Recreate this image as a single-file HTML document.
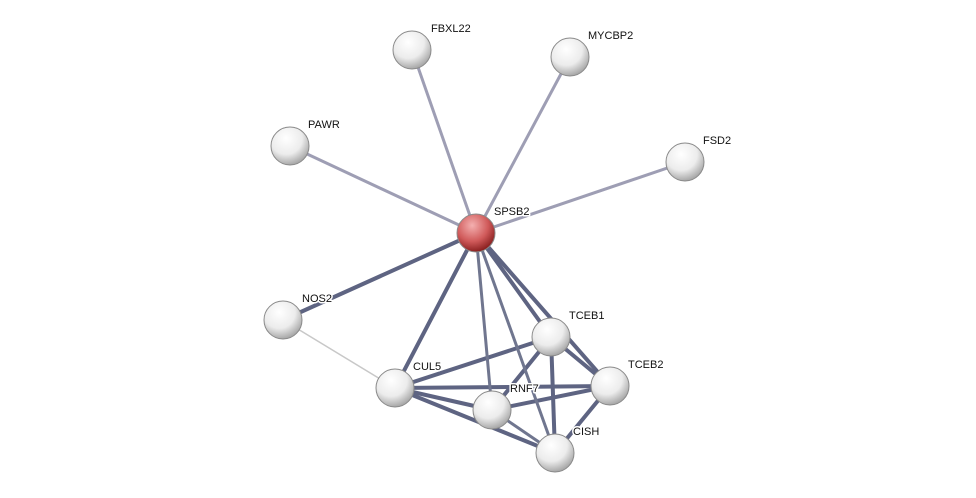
<!DOCTYPE html>
<html><head><meta charset="utf-8"><style>
html,body{margin:0;padding:0;background:#fff;}
svg{display:block;}
text{font-family:"Liberation Sans",sans-serif;font-size:11px;fill:#111;stroke:#fff;stroke-width:3px;paint-order:stroke;stroke-linejoin:round;}
</style></head><body>
<svg width="976" height="498" viewBox="0 0 976 498" xmlns="http://www.w3.org/2000/svg">
<defs>
<radialGradient id="g" cx="40%" cy="30%" r="70%">
<stop offset="0" stop-color="#ffffff"/><stop offset="0.6" stop-color="#ececec"/><stop offset="1" stop-color="#a8a8a8"/>
</radialGradient>
<radialGradient id="r" cx="40%" cy="30%" r="70%">
<stop offset="0" stop-color="#f4b0b0"/><stop offset="0.6" stop-color="#d05a5a"/><stop offset="1" stop-color="#8a2020"/>
</radialGradient>
</defs>
<g stroke-linecap="round">
<g stroke="#9e9eb4" stroke-width="3">
<line x1="476" y1="233" x2="412" y2="50"/>
<line x1="476" y1="233" x2="570" y2="57"/>
<line x1="476" y1="233" x2="290" y2="146"/>
<line x1="476" y1="233" x2="685" y2="162"/>
</g>
<line x1="283" y1="320" x2="395" y2="388" stroke="#c8c8c8" stroke-width="1.5"/>
<g stroke="#5e6482" stroke-width="4">
<line x1="476" y1="233" x2="283" y2="320"/>
<line x1="476" y1="233" x2="395" y2="388"/>
<line x1="476" y1="233" x2="551" y2="337"/>
<line x1="476" y1="233" x2="610" y2="386"/>
<line x1="395" y1="388" x2="551" y2="337"/>
<line x1="395" y1="388" x2="610" y2="386"/>
<line x1="395" y1="388" x2="492" y2="410"/>
<line x1="395" y1="388" x2="555" y2="453"/>
<line x1="492" y1="410" x2="551" y2="337"/>
<line x1="492" y1="410" x2="610" y2="386"/>
<line x1="551" y1="337" x2="610" y2="386"/>
<line x1="551" y1="337" x2="555" y2="453"/>
<line x1="610" y1="386" x2="555" y2="453"/>
</g>
<g stroke="#70768f" stroke-width="3">
<line x1="476" y1="233" x2="492" y2="410"/>
<line x1="476" y1="233" x2="555" y2="453"/>
<line x1="492" y1="410" x2="555" y2="453"/>
</g>
</g>
<g stroke="#8a8a8a" stroke-width="1">
<circle cx="412" cy="50" r="19" fill="url(#g)"/>
<circle cx="570" cy="57" r="19" fill="url(#g)"/>
<circle cx="290" cy="146" r="19" fill="url(#g)"/>
<circle cx="685" cy="162" r="19" fill="url(#g)"/>
<circle cx="476" cy="233" r="19" fill="url(#r)"/>
<circle cx="283" cy="320" r="19" fill="url(#g)"/>
<circle cx="551" cy="337" r="19" fill="url(#g)"/>
<circle cx="610" cy="386" r="19" fill="url(#g)"/>
<circle cx="395" cy="388" r="19" fill="url(#g)"/>
<circle cx="492" cy="410" r="19" fill="url(#g)"/>
<circle cx="555" cy="453" r="19" fill="url(#g)"/>
</g>
<text x="431" y="32">FBXL22</text>
<text x="588" y="39">MYCBP2</text>
<text x="308" y="128">PAWR</text>
<text x="703" y="144">FSD2</text>
<text x="494" y="215">SPSB2</text>
<text x="302" y="302">NOS2</text>
<text x="569" y="319">TCEB1</text>
<text x="628" y="368">TCEB2</text>
<text x="413" y="370">CUL5</text>
<text x="510" y="392">RNF7</text>
<text x="573" y="435">CISH</text>
</svg>
</body></html>
